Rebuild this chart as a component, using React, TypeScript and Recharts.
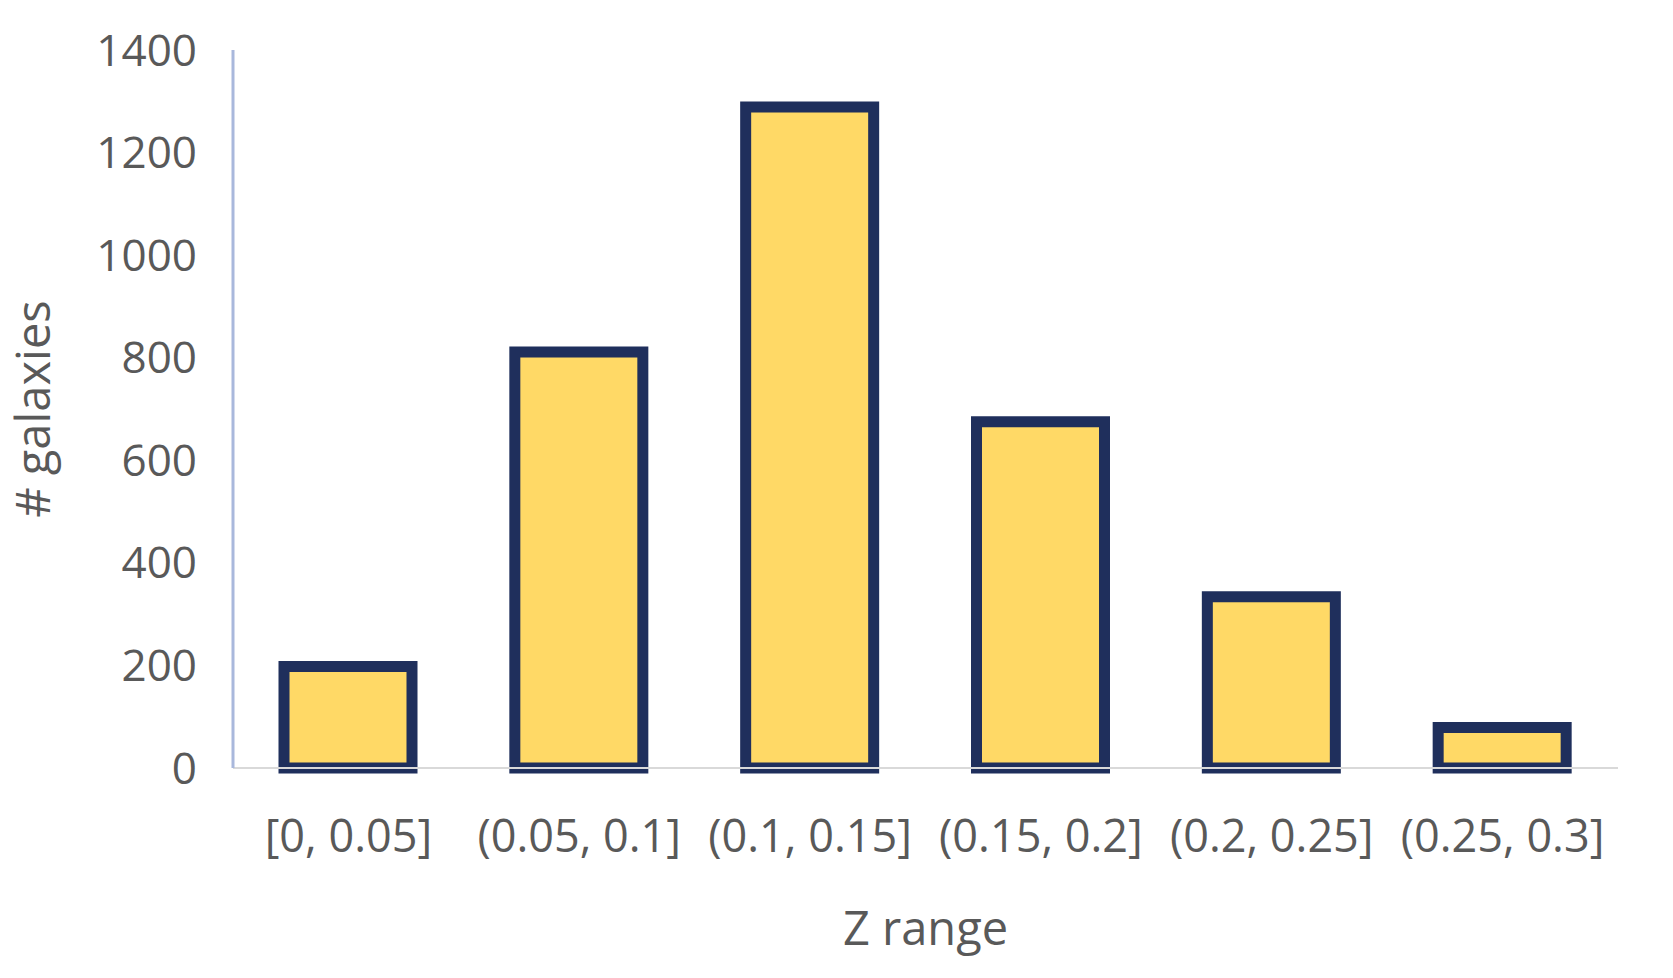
import { BarChart, Bar, XAxis, YAxis, Label } from 'recharts';

const zRanges = ['[0, 0.05]', '(0.05, 0.1]', '(0.1, 0.15]', '(0.15, 0.2]', '(0.2, 0.25]', '(0.25, 0.3]'];
const galaxyCounts = [198, 811, 1289, 675, 334, 79];
const yTicks = [0, 200, 400, 600, 800, 1000, 1200, 1400];

const data = zRanges.map((range, i) => ({ range, count: galaxyCounts[i] }));

const FONT = '"Open Sans", sans-serif';
const TEXT_COLOR = '#595959';

export default function App() {
  return (
    <div style={{ position: 'absolute', left: 0, top: 0, background: '#fff' }}>
      <BarChart
        width={1673}
        height={978}
        data={data}
        margin={{ top: 50, right: 55, bottom: 0, left: 0 }}
      >
        <XAxis
          dataKey="range"
          height={210}
          interval={0}
          tickLine={false}
          tickSize={0}
          tickMargin={52}
          axisLine={{ stroke: '#D9D9D9', strokeWidth: 2 }}
          tick={{ fill: TEXT_COLOR, fontSize: 45, fontFamily: FONT }}
        >
          <Label
            content={(props: any) => {
              const vb = props.viewBox;
              return (
                <text
                  x={vb.x + vb.width / 2}
                  y={vb.y + 177}
                  textAnchor="middle"
                  fill={TEXT_COLOR}
                  fontSize={47}
                  fontFamily={FONT}
                >
                  Z range
                </text>
              );
            }}
          />
        </XAxis>
        <YAxis
          width={233}
          domain={[0, 1400]}
          ticks={yTicks}
          interval={0}
          tickLine={false}
          tickSize={0}
          tickMargin={36}
          axisLine={{ stroke: '#A9B8DC', strokeWidth: 3 }}
          tick={{ fill: TEXT_COLOR, fontSize: 44, fontFamily: FONT }}
        >
          <Label
            content={(props: any) => {
              const vb = props.viewBox;
              const cy = vb.y + vb.height / 2;
              return (
                <text
                  x={50}
                  y={cy}
                  transform={`rotate(-90, 50, ${cy})`}
                  textAnchor="middle"
                  fill={TEXT_COLOR}
                  fontSize={47}
                  fontFamily={FONT}
                >
                  # galaxies
                </text>
              );
            }}
          />
        </YAxis>
        <Bar
          dataKey="count"
          fill="#FFD966"
          stroke="#1F2F5C"
          strokeWidth={11}
          barSize={128}
          isAnimationActive={false}
        />
      </BarChart>
    </div>
  );
}
